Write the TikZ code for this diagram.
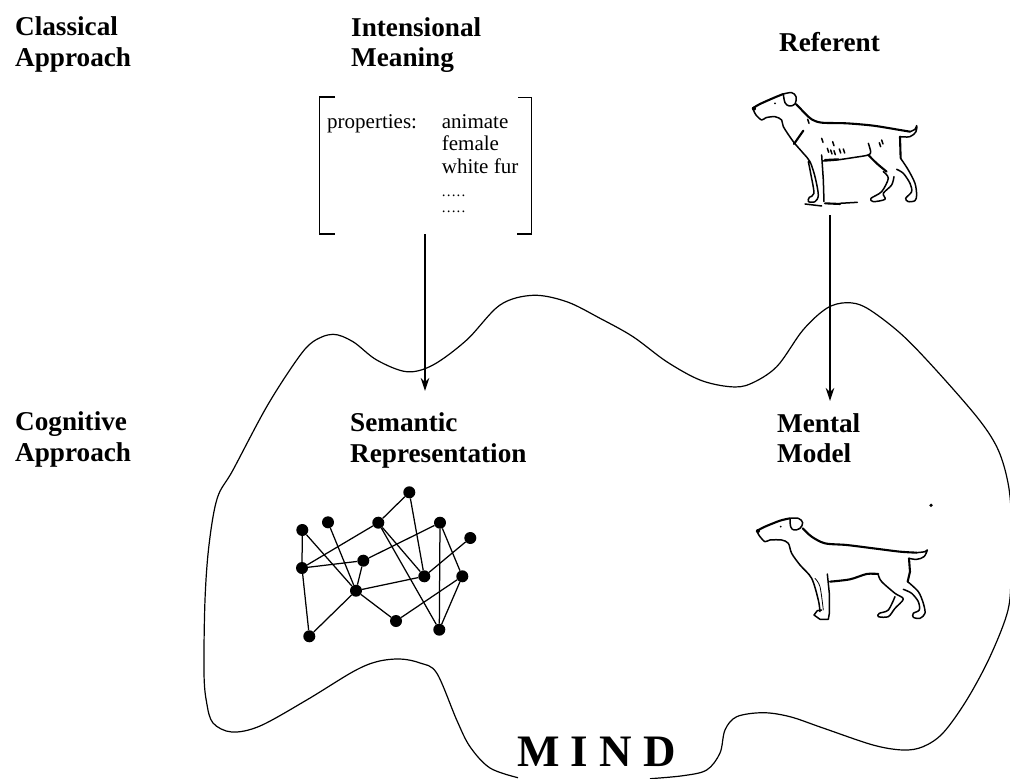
\documentclass[tikz,border=0pt]{standalone}
\usepackage{fontspec}
\setmainfont{Liberation Serif}
\usetikzlibrary{arrows.meta}
\tikzset{
  head/.style={anchor=base west,inner sep=0pt,align=left,font=\fontsize{27.2}{30.7}\selectfont\bfseries},
  small/.style={anchor=base west,inner sep=0pt,font=\fontsize{21}{24}\selectfont},
  dotline/.style={anchor=base west,inner sep=0pt,font=\fontsize{15}{15}\selectfont\addfontfeatures{LetterSpace=8}},
  mindlabel/.style={anchor=base west,inner sep=0pt,font=\fontsize{45}{50}\selectfont\bfseries},
  outline/.style={line width=1.2pt,line join=round},
  bracket/.style={line width=1.1pt},
  pointer/.style={line width=1.2pt,-{Stealth[length=13pt,width=8.5pt]}},
  dot/.style={circle,fill=black,inner sep=0pt,minimum size=12pt},
  link/.style={line width=1.25pt},
  dogline/.style={line width=1.5pt,line join=round,line cap=round},
  dogthick/.style={line width=2.1pt,line join=round,line cap=round},
  dogthin/.style={line width=.8pt,line cap=round},
}
\begin{document}
\begin{tikzpicture}[x=1pt,y=-1pt]
\useasboundingbox (0,0) rectangle (1010,779);
\clip (0,0) rectangle (1010,779);
% labels
\node[head] (classical) at (15,35) {Classical};
\node[head] (classapp) at (15,66) {Approach};
\node[head] (intens) at (351,36.7) {Intensional};
\node[head] (meaning) at (351,66.7) {Meaning};
\node[head] (referent) at (779,51.7) {Referent};
\node[head] (cognitive) at (15,430.7) {Cognitive};
\node[head] (cogapp) at (15,461.7) {Approach};
\node[head] (semantic) at (350,431.7) {Semantic};
\node[head] (repres) at (350,462.3) {Representation};
\node[head] (mental) at (777,432.3) {Mental};
\node[head] (model) at (777,462.7) {Model};
\node[mindlabel] (mind) at (517,766) {M I N D};
% feature structure
\node[small] (props) at (327,128.3) {properties:};
\node[small] (anim) at (441.7,128.3) {animate};
\node[small] (fem) at (441.7,150.7) {female};
\node[small] (fur) at (441.7,173.3) {white fur};
\node[dotline] (dotsa) at (441.7,196.7) {.....};
\node[dotline] (dotsb) at (441.7,212.7) {.....};
\draw[bracket] (335,97) -- (319.3,97) -- (319.3,234) -- (335,234);
\draw[bracket] (518,97.5) -- (531.7,97.5) -- (531.7,234) -- (517,234);
% arrows
\coordinate (fromI) at (425,234);
\coordinate (toS) at (425,391);
\coordinate (fromR) at (830,215);
\coordinate (toM) at (830,401);
\draw[pointer] (fromI) -- (toS);
\draw[pointer] (fromR) -- (toM);
% mind outline
\draw[outline] plot[smooth,tension=.55] coordinates {
(650,778.7)(683,775.7)(706.7,770)(720,753)(725,730)(736.7,716.7)(763,712.7)(790,716.7)(823,728)(873,745)(903,750)(923,746.7)(943,733)(966.7,700)(990,656.7)(1008,610)(1011,570)(1011,510)(1006.7,476.7)(996.7,446.7)(976.7,416.7)(933,366.7)(900,333)(866.7,308)(846.7,302.7)(826.7,308.3)(803,330)(776.7,366.7)(750,384)(730,386.7)(700,380)(666.7,361.7)(633,336.7)(600,318.3)(566.7,301.7)(533,295.3)(500,305)(466.7,340)(433,365)(406.7,371.7)(376.7,360)(353,341.7)(333,334.3)(313,341.7)(296.7,360)(266.7,406.7)(233,470)(217.3,498)(209,545)(205,600)(204,673)(206.7,703)(213,723)(231.7,732)(260,726)(306.7,700)(353,671.7)(376.7,661.7)(400,659)(420,663)(436.7,673)(456.7,720)(470,746.7)(490,768)(518,777.7)};
% network
\node[dot] (n1) at (409.3,492.3) {};
\node[dot] (n2) at (378.3,522.7) {};
\node[dot] (n3) at (328,522.3) {};
\node[dot] (n4) at (302.3,530) {};
\node[dot] (n5) at (440,522.7) {};
\node[dot] (n6) at (470.3,538) {};
\node[dot] (n7) at (302,568) {};
\node[dot] (n8) at (363.3,560.7) {};
\node[dot] (n9) at (356,590.7) {};
\node[dot] (n10) at (424.3,576.3) {};
\node[dot] (n11) at (462.3,576.3) {};
\node[dot] (n12) at (396,621) {};
\node[dot] (n13) at (439.3,629.7) {};
\node[dot] (n14) at (309.3,636.3) {};
\foreach \a/\b in {n1/n2,n1/n10,n2/n7,n2/n10,n2/n13,n3/n9,n4/n7,n4/n9,n5/n8,n5/n11,n5/n13,n6/n10,n7/n8,n7/n14,n8/n9,n9/n10,n9/n12,n9/n14,n11/n12,n11/n13}
  \draw[link] (\a) -- (\b);
% speck
\fill (931,505.3) circle (1.8pt);
% referent dog
\begin{scope}[shift={(740,80)},x=0.3333pt,y=-0.3333pt]
\draw[dogthick] plot[smooth,tension=.5] coordinates {(38,85)(60,72)(105,52)(130,42)};
\fill (42,86) circle (6);
\draw[dogline] plot[smooth,tension=.6] coordinates {(130,42)(155,38)(168,50)(165,72)(148,78)(135,68)(130,42)};
\draw[dogthick] plot[smooth,tension=.5] coordinates {(168,72)(195,100)(215,118)(245,128)(320,130)(400,137)(480,150)(510,155)};
\draw[dogline] plot[smooth,tension=.6] coordinates {(510,155)(525,148)(530,137)(528,155)(510,170)(480,170)};
\draw[dogthick] (480,170) -- (482,235);
\draw[dogline] plot[smooth,tension=.5] coordinates {(482,235)(505,270)(525,310)(530,345)(525,362)(505,365)(497,355)(515,335)(510,310)(490,280)(470,268)};
\draw[dogline] plot[smooth,tension=.5] coordinates {(462,290)(455,315)(430,340)(435,358)(400,365)(393,355)(425,335)(445,295)(430,275)};
\draw[dogthick] plot[smooth,tension=.5] coordinates {(385,225)(410,250)(440,275)};
\draw[dogline] plot[smooth,tension=.5] coordinates {(385,190)(392,215)(385,225)(345,232)(290,240)(250,243)};
\draw[dogthick] (255,240) -- (295,238);
\draw[dogline] (245,225) -- (250,300) -- (252,365);
\draw[dogthick] (255,370) -- (300,372);
\draw[dogline] (300,370) -- (352,367);
\draw[dogline] plot[smooth,tension=.5] coordinates {(38,85)(48,105)(65,120)(78,113)(105,110)(125,120)(130,140)(160,185)(190,220)(210,245)(225,290)(235,345)(225,365)(205,365)(208,352)(222,340)(212,280)(205,245)};
\draw[dogline] (195,372) -- (245,378);
\draw[dogthick] (162,192) -- (190,152);
\foreach \p/\q in {245/175,278/185,298/207,262/205,272/210,282/212,310/207,425/180,418/188,203/118}
  \draw[dogline] (\p,\q) -- ++(4,12);
\fill (105,70) circle (3);
\end{scope}
% mental model dog
\begin{scope}[shift={(740,500)},x=0.3333pt,y=-0.3333pt]
\draw[dogthick] plot[smooth,tension=.5] coordinates {(50,93)(75,80)(120,62)(150,55)};
\fill (54,93) circle (6);
\draw[dogline] plot[smooth,tension=.6] coordinates {(150,55)(175,55)(188,68)(180,85)(162,90)(152,80)(150,55)};
\draw[dogthick] plot[smooth,tension=.5] coordinates {(188,85)(215,110)(255,130)(320,135)(400,145)(480,155)(530,158)};
\draw[dogline] plot[smooth,tension=.6] coordinates {(530,158)(555,155)(562,150)(552,170)(530,178)(507,175)};
\draw[dogthick] (507,175) -- (510,215) -- (503,245);
\draw[dogline] plot[smooth,tension=.5] coordinates {(503,245)(535,275)(550,310)(555,340)(540,355)(520,352)(520,340)(538,330)(535,305)(515,280)(490,268)};
\draw[dogline] plot[smooth,tension=.5] coordinates {(415,225)(425,245)(465,280)(490,297)(465,325)(445,350)(415,350)(418,340)(445,330)(465,290)};
\draw[dogthick] plot[smooth,tension=.5] coordinates {(415,222)(380,222)(330,238)(270,245)};
\draw[dogline] (262,222) -- (268,280) -- (268,340) -- (265,358) -- (240,358) -- (222,345) -- (232,332) -- (245,330);
\draw[dogline] plot[smooth,tension=.5] coordinates {(50,93)(60,110)(75,125)(90,120)(125,120)(145,130)(155,160)(180,195)(215,235)(235,300)(240,335)};
\draw[dogthin] plot[smooth,tension=.5] coordinates {(225,235)(240,260)(250,330)};
\fill (122,80) circle (3);
\end{scope}
\end{tikzpicture}
\end{document}
